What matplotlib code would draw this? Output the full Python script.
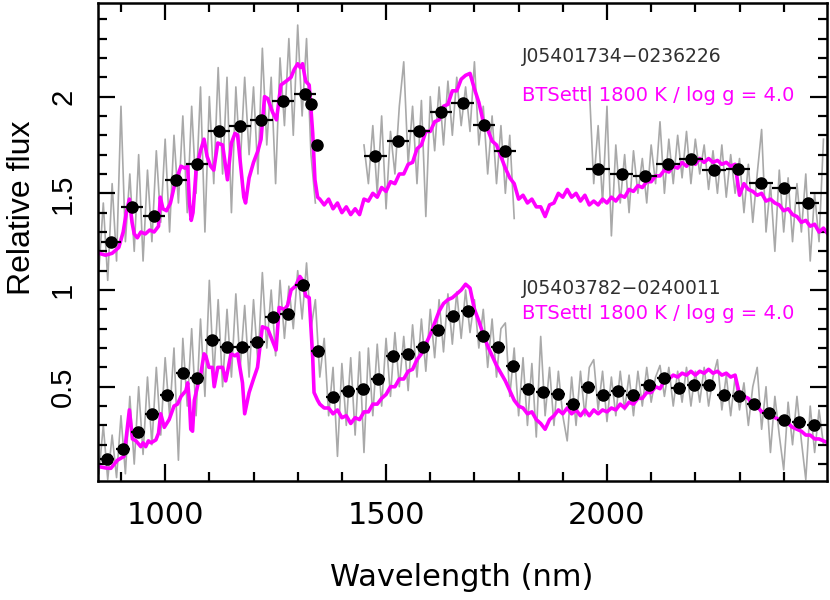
import numpy as np
import matplotlib
matplotlib.use('Agg')
import matplotlib.pyplot as plt

# Observed spectra (grey), sampled every 10 nm from the start wavelength
obs1_a_start, obs1_b_start, obs1_c_start = 850, 1450, 1960
obs1_a = [1.10, 1.45, 1.05, 1.55, 1.15, 1.95, 1.25, 1.60, 1.20, 1.70,
          1.15, 1.62, 1.25, 1.72, 1.35, 1.78, 1.30, 1.80, 1.45, 1.90,
          1.40, 1.95, 1.50, 2.05, 1.30, 2.00, 1.55, 2.15, 1.60, 2.10,
          1.40, 2.05, 1.65, 2.10, 1.70, 2.05, 1.60, 2.25, 1.75, 2.10,
          1.55, 2.20, 1.85, 2.30, 1.80, 2.37, 1.90, 2.30, 1.70, 1.45]
obs1_b = [1.75, 1.55, 1.85, 1.50, 1.90, 1.42, 1.82, 1.60, 1.95, 2.18,
          1.65, 1.95, 1.55, 1.98, 1.38, 2.00, 1.72, 2.05, 1.75, 2.08,
          1.80, 2.10, 1.85, 2.05, 1.82, 2.18, 1.75, 1.95, 1.60, 1.90,
          1.55, 1.85, 1.50, 1.80, 1.37]
obs1_c = [2.05, 1.55, 1.85, 1.45, 1.95, 1.28, 1.75, 1.45, 1.70, 1.40,
          1.72, 1.50, 1.68, 1.45, 1.75, 1.55, 1.87, 1.50, 1.78, 1.55,
          1.80, 1.58, 1.82, 1.55, 1.78, 1.60, 1.75, 1.52, 1.72, 1.50,
          1.75, 1.48, 1.70, 1.50, 1.68, 1.40, 1.65, 1.35, 1.60, 1.83,
          1.30, 1.55, 1.20, 1.62, 1.30, 1.58, 1.25, 1.55, 1.30, 1.60,
          1.15, 1.50, 1.25, 1.78]
obs2_start = 850
obs2 = [0.05, 0.30, 0.02, 0.25, 0.03, 0.35, 0.05, 0.45, 0.10, 0.50,
        0.15, 0.55, 0.20, 0.60, 0.25, 0.65, 0.35, 0.70, 0.12, 0.75,
        0.40, 0.80, 0.35, 0.85, 0.45, 1.05, 0.55, 0.95, 0.50, 0.90,
        0.55, 0.98, 0.60, 0.92, 0.55, 0.95, 0.62, 1.09, 0.70, 1.00,
        0.66, 1.05, 0.75, 1.02, 0.80, 1.10, 0.85, 1.14, 0.80, 0.95,
        0.55, 0.75, 0.35, 0.60, 0.14, 0.62, 0.30, 0.65, 0.25, 0.68,
        0.16, 0.70, 0.35, 0.72, 0.40, 0.75, 0.45, 0.78, 0.50, 0.76,
        0.48, 0.82, 0.55, 0.85, 0.58, 0.90, 0.65, 0.95, 0.68, 0.98,
        0.72, 0.99, 0.75, 1.00, 0.78, 0.95, 0.70, 0.90, 0.60, 0.85,
        0.55, 0.80, 0.83, 0.45, 0.70, 0.35, 0.65, 0.30, 0.62, 0.24,
        0.76, 0.35, 0.60, 0.30, 0.58, 0.35, 0.22, 0.55, 0.30, 0.58,
        0.35, 0.60, 0.64, 0.38, 0.58, 0.32, 0.55, 0.35, 0.58, 0.38,
        0.56, 0.35, 0.58, 0.40, 0.60, 0.42, 0.55, 0.61, 0.45, 0.60,
        0.40, 0.58, 0.42, 0.60, 0.40, 0.58, 0.42, 0.60, 0.40, 0.55,
        0.64, 0.38, 0.56, 0.35, 0.55, 0.38, 0.52, 0.30, 0.50, 0.60,
        0.28, 0.50, 0.16, 0.45, 0.25, 0.07, 0.42, 0.20, 0.45, 0.22,
        0.02, 0.40, 0.16, 0.38, 0.20]

# BT-Settl model, detailed part up to 1345 nm then a 10 nm grid
mod1_wl = [850, 865, 880, 895, 905, 912, 919, 925, 930, 937,
           945, 955, 965, 975, 985, 989, 995, 1003, 1012, 1020,
           1028, 1036, 1045, 1051, 1055, 1059, 1063, 1070, 1080, 1088,
           1095, 1103, 1110, 1119, 1130, 1141, 1150, 1158, 1164, 1172,
           1178, 1182, 1190, 1200, 1210, 1217, 1225, 1232, 1243, 1252,
           1262, 1274, 1285, 1292, 1300, 1306, 1311, 1318, 1326, 1334,
           1339, 1345]
mod1_fl = [1.19, 1.18, 1.19, 1.22, 1.30, 1.40, 1.47, 1.35, 1.29, 1.27,
           1.30, 1.29, 1.31, 1.30, 1.33, 1.48, 1.42, 1.41, 1.45, 1.53,
           1.59, 1.64, 1.63, 1.64, 1.45, 1.36, 1.40, 1.62, 1.72, 1.78,
           1.69, 1.64, 1.62, 1.76, 1.75, 1.57, 1.76, 1.81, 1.80, 1.62,
           1.48, 1.45, 1.58, 1.66, 1.72, 1.78, 2.00, 1.99, 1.92, 1.88,
           2.06, 2.08, 2.10, 2.14, 2.17, 2.15, 2.17, 2.08, 2.06, 1.81,
           1.57, 1.48]
mod1_tail = [1.47, 1.44, 1.47, 1.42, 1.45, 1.40, 1.43, 1.39, 1.42, 1.39,
             1.47, 1.46, 1.50, 1.48, 1.53, 1.51, 1.56, 1.55, 1.60, 1.60,
             1.65, 1.66, 1.73, 1.75, 1.82, 1.82, 1.87, 1.88, 1.95, 1.96,
             2.03, 2.03, 2.09, 2.11, 2.12, 2.04, 1.97, 1.87, 1.83, 1.77,
             1.75, 1.69, 1.63, 1.58, 1.55, 1.47, 1.49, 1.45, 1.47, 1.43,
             1.43, 1.38, 1.44, 1.45, 1.50, 1.48, 1.52, 1.48, 1.50, 1.46,
             1.49, 1.44, 1.46, 1.44, 1.47, 1.45, 1.48, 1.46, 1.49, 1.48,
             1.52, 1.51, 1.54, 1.53, 1.56, 1.56, 1.59, 1.59, 1.62, 1.61,
             1.64, 1.63, 1.66, 1.64, 1.67, 1.65, 1.68, 1.66, 1.68, 1.66,
             1.67, 1.65, 1.66, 1.64, 1.65, 1.49, 1.55, 1.52, 1.51, 1.49,
             1.50, 1.46, 1.47, 1.45, 1.44, 1.41, 1.42, 1.39, 1.38, 1.35,
             1.36, 1.33, 1.34, 1.30, 1.32, 1.29]
mod2_wl = [850, 865, 877, 892, 907, 914, 919, 926, 934, 945,
           950, 956, 962, 968, 979, 985, 990, 998, 1009, 1020,
           1028, 1036, 1047, 1051, 1055, 1058, 1062, 1066, 1075, 1081,
           1088, 1092, 1099, 1107, 1111, 1119, 1130, 1137, 1149, 1158,
           1164, 1175, 1180, 1190, 1200, 1209, 1220, 1232, 1239, 1251,
           1258, 1270, 1277, 1285, 1295, 1305, 1311, 1318, 1326, 1334,
           1337, 1345]
mod2_fl = [0.087, 0.08, 0.078, 0.12, 0.14, 0.28, 0.38, 0.23, 0.22, 0.19,
           0.21, 0.19, 0.22, 0.21, 0.225, 0.26, 0.36, 0.29, 0.33, 0.40,
           0.41, 0.45, 0.48, 0.52, 0.42, 0.28, 0.27, 0.43, 0.52, 0.57,
           0.67, 0.66, 0.60, 0.60, 0.50, 0.60, 0.60, 0.53, 0.67, 0.66,
           0.67, 0.52, 0.36, 0.47, 0.54, 0.60, 0.81, 0.80, 0.76, 0.69,
           0.91, 0.90, 0.92, 1.00, 1.02, 1.07, 1.05, 0.97, 0.96, 0.65,
           0.47, 0.43]
mod2_tail = [0.41, 0.39, 0.39, 0.36, 0.38, 0.34, 0.35, 0.31, 0.34, 0.33,
             0.37, 0.37, 0.41, 0.41, 0.44, 0.46, 0.50, 0.50, 0.54, 0.54,
             0.58, 0.59, 0.64, 0.67, 0.72, 0.77, 0.83, 0.89, 0.93, 0.95,
             0.96, 0.98, 1.00, 1.03, 1.01, 0.90, 0.84, 0.77, 0.71, 0.66,
             0.61, 0.57, 0.53, 0.48, 0.43, 0.40, 0.39, 0.36, 0.37, 0.33,
             0.31, 0.28, 0.33, 0.35, 0.38, 0.36, 0.39, 0.36, 0.38, 0.35,
             0.38, 0.35, 0.38, 0.36, 0.38, 0.37, 0.39, 0.38, 0.41, 0.39,
             0.42, 0.41, 0.44, 0.44, 0.47, 0.47, 0.50, 0.49, 0.53, 0.54,
             0.56, 0.55, 0.57, 0.56, 0.58, 0.56, 0.58, 0.57, 0.59, 0.57,
             0.58, 0.56, 0.57, 0.55, 0.56, 0.46, 0.45, 0.44, 0.40, 0.40,
             0.37, 0.37, 0.35, 0.34, 0.33, 0.32, 0.31, 0.29, 0.28, 0.27,
             0.25, 0.25, 0.23, 0.23, 0.22, 0.21]
tail_start = 1350

# Photometry-like binned points
pts1_x = [877, 924, 974, 1024, 1072, 1121, 1170, 1218, 1267, 1316, 1330, 1343,
          1476, 1526, 1575, 1624, 1673, 1722, 1770,
          1980, 2033, 2086, 2139, 2191, 2243, 2296, 2348, 2401, 2454]
pts1_y = [1.248, 1.429, 1.384, 1.567, 1.652, 1.824, 1.850, 1.879, 1.977, 2.013, 1.960, 1.751,
          1.691, 1.772, 1.824, 1.919, 1.968, 1.853, 1.719,
          1.626, 1.600, 1.589, 1.650, 1.677, 1.621, 1.624, 1.552, 1.529, 1.450]
pts1_xerr = [22, 25, 25, 25, 25, 25, 25, 25, 25, 25, 4, 4,
             25, 25, 25, 25, 25, 25, 25,
             27, 27, 27, 27, 27, 27, 27, 27, 27, 27]
pts2_x = [868, 904, 938, 971, 1005, 1040, 1073, 1107, 1141, 1175,
          1209, 1243, 1277, 1311, 1345, 1380, 1413, 1447, 1481, 1515,
          1549, 1583, 1618, 1652, 1685, 1720, 1753, 1788, 1822, 1855,
          1890, 1924, 1958, 1992, 2026, 2059, 2094, 2129, 2162, 2196,
          2230, 2265, 2299, 2333, 2366, 2400, 2434, 2469]
pts2_y = [0.125, 0.178, 0.267, 0.360, 0.457, 0.569, 0.547, 0.740, 0.707, 0.707,
          0.730, 0.860, 0.876, 1.026, 0.685, 0.445, 0.478, 0.487, 0.540, 0.659,
          0.671, 0.704, 0.793, 0.867, 0.890, 0.761, 0.705, 0.606, 0.487, 0.475,
          0.461, 0.409, 0.498, 0.457, 0.478, 0.457, 0.509, 0.547, 0.492, 0.509,
          0.509, 0.457, 0.452, 0.411, 0.366, 0.329, 0.318, 0.300]
pts2_xerr = 16

name1 = 'J05401734\u22120236226'
name2 = 'J05403782\u22120240011'
model_label = 'BTSettl 1800 K / log g = 4.0'


def grid(start, values):
    return start + 10 * np.arange(len(values))


fig = plt.figure(figsize=(8.3, 6), dpi=100)
ax = fig.add_axes([98 / 830, 1 - 481.3 / 600, 729 / 830, 478.3 / 600])

grey = '#a9a9a9'
magenta = '#ff00ff'

# observed spectra
for start, vals in [(obs1_a_start, obs1_a), (obs1_b_start, obs1_b),
                    (obs1_c_start, obs1_c), (obs2_start, obs2)]:
    ax.plot(grid(start, vals), vals, color=grey, lw=1.2, zorder=1)

# models
ax.plot(mod1_wl + list(grid(tail_start, mod1_tail)), mod1_fl + mod1_tail,
        color=magenta, lw=2.6, zorder=2)
ax.plot(mod2_wl + list(grid(tail_start, mod2_tail)), mod2_fl + mod2_tail,
        color=magenta, lw=2.6, zorder=2)

# binned points
ax.errorbar(pts1_x, pts1_y, xerr=pts1_xerr, fmt='o', color='black', ms=8,
            elinewidth=1.6, capsize=0, zorder=3)
ax.errorbar(pts2_x, pts2_y, xerr=pts2_xerr, fmt='o', color='black', ms=8,
            elinewidth=1.6, capsize=0, zorder=3)

# labels in the plot
ax.text(1807, 2.205, name1, color='#303030', fontsize=13.5, va='center')
ax.text(1807, 2.008, model_label, color=magenta, fontsize=14, va='center')
ax.text(1807, 1.010, name2, color='#303030', fontsize=13.5, va='center')
ax.text(1807, 0.881, model_label, color=magenta, fontsize=14, va='center')

ax.set_xlim(848, 2498)
ax.set_ylim(0.011, 2.484)
ax.set_xticks([1000, 1500, 2000])
ax.set_xticks(np.arange(900, 2500, 100), minor=True)
ax.set_yticks([0.5, 1.0, 1.5, 2.0])
ax.set_yticklabels(['0.5', '1', '1.5', '2'])
ax.set_yticks(np.arange(0.1, 2.45, 0.1), minor=True)

ax.tick_params(which='both', direction='in', top=True, right=True, width=1.6)
ax.tick_params(which='major', length=12)
ax.tick_params(which='minor', length=6.5)
ax.tick_params(axis='x', which='major', labelsize=22, pad=14)
ax.tick_params(axis='y', which='major', labelsize=21, pad=15)
for lab in ax.get_yticklabels():
    lab.set_rotation(90)
    lab.set_va('center')
    lab.set_family('Liberation Sans')
for sp in ax.spines.values():
    sp.set_linewidth(1.8)

fig.text(462 / 830, 1 - 578 / 600, 'Wavelength (nm)', fontsize=22,
         ha='center', va='center')
fig.text(22 / 830, 1 - 208 / 600, 'Relative flux', fontsize=23,
         family='Liberation Sans', rotation=90, ha='center', va='center')

fig.savefig('out.png', dpi=100)
